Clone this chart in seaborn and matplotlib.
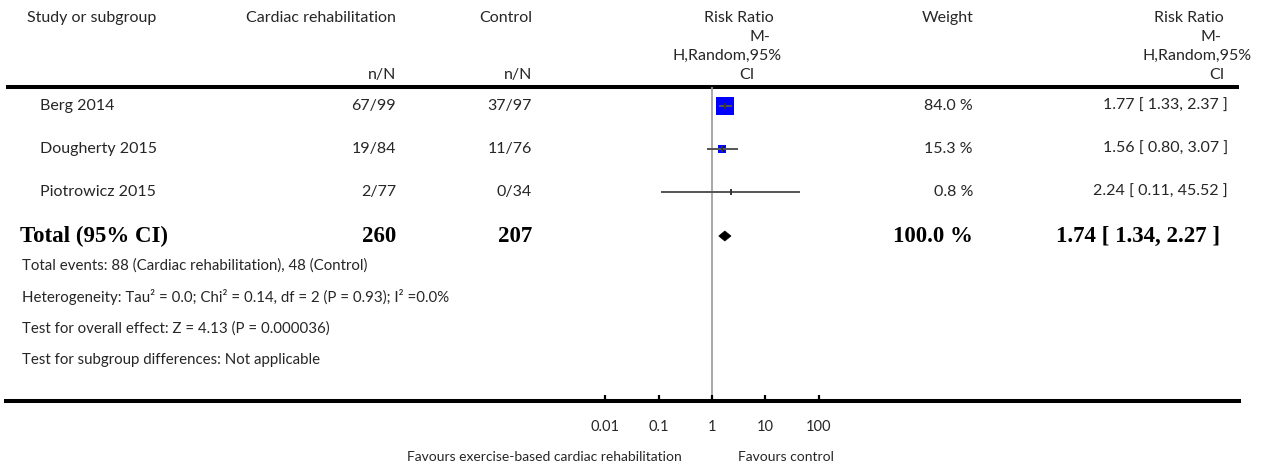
import numpy as np
import pandas as pd
import seaborn as sns
import matplotlib.pyplot as plt
from matplotlib.patches import Polygon
from matplotlib.ticker import NullLocator

# ---- data -----------------------------------------------------------------
studies = ["Berg 2014", "Dougherty 2015", "Piotrowicz 2015"]
rehab_events = [67, 19, 2]
rehab_total = [99, 84, 77]
control_events = [37, 11, 0]
control_total = [97, 76, 34]
weights = [84.0, 15.3, 0.8]
rr = [1.77, 1.56, 2.24]
rr_low = [1.33, 0.80, 0.11]
rr_high = [2.37, 3.07, 45.52]

pooled_rr, pooled_low, pooled_high = 1.74, 1.34, 2.27
pooled_rehab_total, pooled_control_total = 260, 207
pooled_weight = 100.0

tick_values = [0.01, 0.1, 1, 10, 100]
tick_labels = ["0.01", "0.1", "1", "10", "100"]

footer_lines = [
    "Total events: 88 (Cardiac rehabilitation), 48 (Control)",
    "Heterogeneity: Tau\u00b2 = 0.0; Chi\u00b2 = 0.14, df = 2 (P = 0.93); I\u00b2 =0.0%",
    "Test for overall effect: Z = 4.13 (P = 0.000036)",
    "Test for subgroup differences: Not applicable",
]

# ---- layout (pixels) --------------------------------------------------------
W, H = 1266, 470
AX_BOTTOM = 401          # y of the scale line
X_ONE = 712              # x of RR = 1
DECADE = 53.3            # pixels per decade on the log scale
ROW_Y = [106, 149, 192]
TOTAL_Y = 236
FOOTER_Y = [266, 297, 329, 360]
HEADER_LINE_Y = 87
LINE_X0, LINE_X1 = 6, 1239

sns.set_theme(style="white")
plt.rcParams["font.family"] = ["Lato", "DejaVu Sans"]

TXT = "#262626"
FS = 11.5

fig = plt.figure(figsize=(W / 100, H / 100), dpi=100)

# text layer in pixel coordinates
tx = fig.add_axes([0, 0, 1, 1])
tx.set_xlim(0, W)
tx.set_ylim(H, 0)
tx.axis("off")


def put(x, y, s, ha="left", size=FS, **kw):
    kw.setdefault("color", TXT)
    tx.text(x, y, s, ha=ha, va="center", fontsize=size, **kw)


def put_bold(x, y, s, ha="left"):
    tx.text(x, y, s, ha=ha, va="center", fontsize=16.5, weight="bold",
            family="Liberation Serif", color="black")


HEAD_Y = [18, 37, 56, 75]

# header
put(27, HEAD_Y[0], "Study or subgroup")
put(396, HEAD_Y[0], "Cardiac rehabilitation", ha="right")
put(532, HEAD_Y[0], "Control", ha="right")
put(396, HEAD_Y[3], "n/N", ha="right")
put(532, HEAD_Y[3], "n/N", ha="right")
for (s, x), y in zip([("Risk Ratio", 739), ("M-", 760), ("H,Random,95%", 727), ("CI", 747)],
                     HEAD_Y):
    put(x, y, s, ha="center")
put(948, HEAD_Y[0], "Weight", ha="center")
for (s, x), y in zip([("Risk Ratio", 1224), ("M-", 1221), ("H,Random,95%", 1252), ("CI", 1224)],
                     HEAD_Y):
    put(x, y, s, ha="right")
tx.hlines(HEADER_LINE_Y, LINE_X0, LINE_X1, color="black", lw=2.9)

# study rows
for i, name in enumerate(studies):
    y = ROW_Y[i]
    put(40, y, name)
    put(396, y, f"{rehab_events[i]}/{rehab_total[i]}", ha="right")
    put(532, y, f"{control_events[i]}/{control_total[i]}", ha="right")
    put(973, y, f"{weights[i]:.1f} %", ha="right")
    put(1228, y, f"{rr[i]:.2f} [ {rr_low[i]:.2f}, {rr_high[i]:.2f} ]", ha="right")

# pooled row
put_bold(20, TOTAL_Y, "Total (95% CI)")
put_bold(396, TOTAL_Y, f"{pooled_rehab_total}", ha="right")
put_bold(532, TOTAL_Y, f"{pooled_control_total}", ha="right")
put_bold(973, TOTAL_Y, f"{pooled_weight:.1f} %", ha="right")
put_bold(1220, TOTAL_Y, f"{pooled_rr:.2f} [ {pooled_low:.2f}, {pooled_high:.2f} ]", ha="right")

for s, y in zip(footer_lines, FOOTER_Y):
    put(22, y, s, size=10.8)

put(682, 457, "Favours exercise-based cardiac rehabilitation", ha="right", size=10)
put(738, 457, "Favours control", size=10)

# forest panel: log scale, y in pixels
ax = fig.add_axes([0, 1 - AX_BOTTOM / H, 1, AX_BOTTOM / H])
ax.set_xscale("log")
ax.set_xlim(10 ** ((0 - X_ONE) / DECADE), 10 ** ((W - X_ONE) / DECADE))
ax.set_ylim(AX_BOTTOM, 0)
ax.patch.set_alpha(0)

ax.vlines(1, HEADER_LINE_Y, AX_BOTTOM, color="#9a9a9a", lw=1.2, zorder=0)

df = pd.DataFrame({"rr": rr, "y": ROW_Y, "weight": weights})
sns.scatterplot(data=df, x="rr", y="y", size="weight", sizes=(0, 169),
                size_norm=(0, 84), marker="s", color="#0000ff", linewidth=0,
                legend=False, ax=ax, zorder=2)
ax.hlines(ROW_Y, rr_low, rr_high, color="#555555", lw=1.4, zorder=3)
ax.vlines(rr, [y - 3 for y in ROW_Y], [y + 3 for y in ROW_Y], color="#333333",
          lw=1.4, zorder=3)

diamond = Polygon([(pooled_low, TOTAL_Y), (pooled_rr, TOTAL_Y - 5),
                   (pooled_high, TOTAL_Y), (pooled_rr, TOTAL_Y + 5)],
                  closed=True, facecolor="black", edgecolor="black", lw=0.5, zorder=3)
ax.add_patch(diamond)

for side in ["top", "left", "right"]:
    ax.spines[side].set_visible(False)
ax.spines["bottom"].set_bounds(10 ** ((LINE_X0 - X_ONE) / DECADE),
                               10 ** ((LINE_X1 - X_ONE) / DECADE))
ax.spines["bottom"].set_linewidth(2.9)
ax.spines["bottom"].set_color("black")
ax.set_yticks([])
ax.set_xticks(tick_values)
ax.set_xticklabels(tick_labels, color=TXT)
ax.xaxis.set_minor_locator(NullLocator())
ax.tick_params(axis="x", direction="in", length=4.5, width=1.6, color="black",
               pad=14, labelsize=10.5, bottom=True)
ax.set_xlabel("")
ax.set_ylabel("")

fig.savefig("out.png", dpi=100)
